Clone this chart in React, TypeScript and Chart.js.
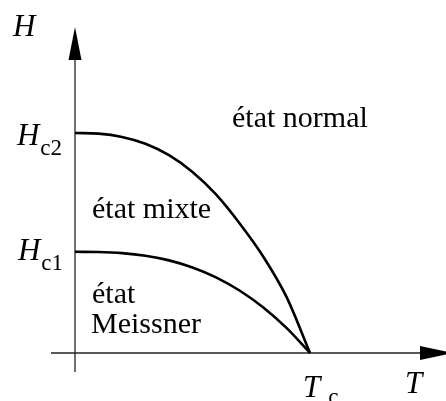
import { useEffect, useRef } from "react";
import { Chart, registerables } from "chart.js";

Chart.register(...registerables);

// Reduced temperature T/Tc
const temperatures = [0, 0.1, 0.2, 0.3, 0.4, 0.5, 0.6, 0.7, 0.8, 0.9, 1.0];
// Upper critical field Hc2(T), in units of Hc2(0)
const hc2Values = [1.0, 0.997, 0.982, 0.951, 0.899, 0.823, 0.721, 0.59, 0.44, 0.255, 0.0];
// Lower critical field Hc1(T), same units
const hc1Values = [0.46, 0.459, 0.454, 0.442, 0.421, 0.389, 0.344, 0.284, 0.208, 0.114, 0.0];

const HC2_ZERO = hc2Values[0];
const HC1_ZERO = hc1Values[0];
const TC = 1.0;

const SERIF = "'Liberation Serif', 'Times New Roman', serif";

type Pt = { x: number; y: number };
const toPoints = (ys: number[]): Pt[] => temperatures.map((t, i) => ({ x: t, y: ys[i] }));

const phaseDiagram = {
  id: "phaseDiagram",
  beforeDatasetsDraw(chart: Chart) {
    const { ctx } = chart;
    const xs = chart.scales.x;
    const ys = chart.scales.y;
    const x0 = xs.getPixelForValue(0);
    const y0 = ys.getPixelForValue(0);
    ctx.save();
    ctx.strokeStyle = "#222";
    ctx.fillStyle = "#000";
    ctx.lineWidth = 1.3;
    // horizontal axis
    ctx.beginPath();
    ctx.moveTo(x0 - 24, y0);
    ctx.lineTo(chart.width - 22, y0);
    ctx.stroke();
    ctx.beginPath();
    ctx.moveTo(chart.width + 7, y0);
    ctx.lineTo(chart.width - 26, y0 - 7);
    ctx.lineTo(chart.width - 26, y0 + 7);
    ctx.closePath();
    ctx.fill();
    // vertical axis
    ctx.beginPath();
    ctx.moveTo(x0, y0 + 19);
    ctx.lineTo(x0, 58);
    ctx.stroke();
    ctx.beginPath();
    ctx.moveTo(x0, 27);
    ctx.lineTo(x0 - 6.5, 60);
    ctx.lineTo(x0 + 6.5, 60);
    ctx.closePath();
    ctx.fill();
    ctx.restore();
  },
  afterDraw(chart: Chart) {
    const { ctx } = chart;
    const xs = chart.scales.x;
    const ys = chart.scales.y;
    const x0 = xs.getPixelForValue(0);
    const y0 = ys.getPixelForValue(0);
    const yHc2 = ys.getPixelForValue(HC2_ZERO);
    const yHc1 = ys.getPixelForValue(HC1_ZERO);
    const xTc = xs.getPixelForValue(TC);

    ctx.save();
    ctx.fillStyle = "#000";
    ctx.textBaseline = "alphabetic";
    ctx.textAlign = "left";

    const italic = `italic 31px ${SERIF}`;
    const sub = `23px ${SERIF}`;

    const symbol = (
      main: string,
      subText: string,
      right: number | null,
      left: number | null,
      base: number,
      subDrop: number,
      gap: number
    ) => {
      ctx.font = italic;
      const wMain = ctx.measureText(main).width;
      ctx.font = sub;
      const wSub = subText ? ctx.measureText(subText).width : 0;
      const start = left !== null ? left : (right as number) - wMain - wSub - gap;
      ctx.font = italic;
      ctx.fillText(main, start, base);
      if (subText) {
        ctx.font = sub;
        ctx.fillText(subText, start + wMain + gap, base + subDrop);
      }
    };

    symbol("H", "", null, 13, 36, 0, 0);
    symbol("H", "c2", x0 - 13, null, yHc2 + 12, 10, 1);
    symbol("H", "c1", x0 - 12, null, yHc1 + 8, 10, 1);
    symbol("T", "c", null, xTc - 7, y0 + 44, 7, 8);
    symbol("T", "", null, 405, y0 + 40, 0, 0);

    ctx.font = `30px ${SERIF}`;
    ctx.fillText("état normal", 232, 127);
    ctx.fillText("état mixte", x0 + 17, 218);
    ctx.fillText("état", x0 + 17, 303);
    ctx.fillText("Meissner", x0 + 16, 333);
    ctx.restore();
  },
};

export default function App() {
  const canvasRef = useRef<HTMLCanvasElement | null>(null);

  useEffect(() => {
    if (!canvasRef.current) return;
    const chart = new Chart(canvasRef.current, {
      type: "line",
      data: {
        datasets: [
          {
            label: "Hc2",
            data: toPoints(hc2Values),
            borderColor: "#000",
            borderWidth: 2.6,
            pointRadius: 0,
            cubicInterpolationMode: "monotone",
            fill: false,
            clip: false as any,
          },
          {
            label: "Hc1",
            data: toPoints(hc1Values),
            borderColor: "#000",
            borderWidth: 2.6,
            pointRadius: 0,
            cubicInterpolationMode: "monotone",
            fill: false,
            clip: false as any,
          },
        ],
      },
      options: {
        responsive: false,
        animation: false,
        events: [],
        layout: { padding: { left: 75, right: 136, top: 133, bottom: 48 } },
        plugins: { legend: { display: false }, tooltip: { enabled: false } },
        scales: {
          x: { type: "linear", min: 0, max: TC, display: false },
          y: { type: "linear", min: 0, max: HC2_ZERO, display: false },
        },
      },
      plugins: [phaseDiagram],
    });
    return () => chart.destroy();
  }, []);

  return (
    <div style={{ position: "fixed", left: 0, top: 0, width: 446, height: 401, background: "#fff" }}>
      <canvas ref={canvasRef} width={446} height={401} style={{ width: 446, height: 401 }} />
    </div>
  );
}
